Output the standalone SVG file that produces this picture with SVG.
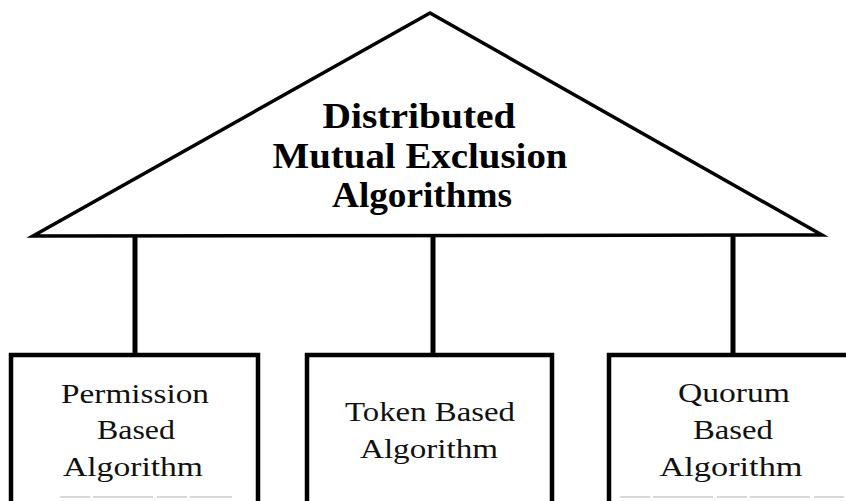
<svg xmlns="http://www.w3.org/2000/svg" width="846" height="501" viewBox="0 0 846 501">
<style>
.title{font-family:"Liberation Serif","Times New Roman",serif;font-weight:bold;font-size:35px;fill:#000}
.lbl{font-family:"Liberation Serif","Times New Roman",serif;font-size:28px;fill:#111}
.box{fill:none;stroke:#000;stroke-width:4.5}
.conn{stroke:#000;stroke-width:5;fill:none}
.faint{stroke:#ccc;stroke-width:1.5;stroke-dasharray:30 3 60 4}
</style>
<rect width="846" height="501" fill="#fff"/>
<g id="root">
<polygon points="430,13 33,236 822,235" fill="none" stroke="#000" stroke-width="3.5" stroke-linejoin="miter"/>
<text class="title" x="419" y="128" text-anchor="middle" textLength="193" lengthAdjust="spacingAndGlyphs">Distributed</text>
<text class="title" x="420" y="168" text-anchor="middle" textLength="295" lengthAdjust="spacingAndGlyphs">Mutual Exclusion</text>
<text class="title" x="422" y="207" text-anchor="middle" textLength="180" lengthAdjust="spacingAndGlyphs">Algorithms</text>
</g>
<g id="connectors">
<line class="conn" x1="135" y1="236" x2="135" y2="355"/>
<line class="conn" x1="433" y1="236" x2="433" y2="355"/>
<line class="conn" x1="733" y1="236" x2="733" y2="355" stroke-width="6"/>
</g>
<g id="permission">
<path class="box" d="M11,501 V355 H258 V501"/>
<line class="faint" x1="60" y1="497" x2="232" y2="497"/>
<text class="lbl" x="135" y="403" text-anchor="middle" textLength="148" lengthAdjust="spacingAndGlyphs">Permission</text>
<text class="lbl" x="136" y="439" text-anchor="middle" textLength="78" lengthAdjust="spacingAndGlyphs">Based</text>
<text class="lbl" x="133" y="476" text-anchor="middle" textLength="140" lengthAdjust="spacingAndGlyphs">Algorithm</text>
</g>
<g id="token">
<path class="box" d="M307,501 V355 H552 V501"/>
<text class="lbl" x="430" y="421" text-anchor="middle" textLength="170" lengthAdjust="spacingAndGlyphs">Token Based</text>
<text class="lbl" x="429" y="458" text-anchor="middle" textLength="138" lengthAdjust="spacingAndGlyphs">Algorithm</text>
</g>
<g id="quorum">
<path class="box" d="M609,501 V355 H846"/>
<line class="faint" x1="620" y1="497" x2="846" y2="497"/>
<text class="lbl" x="734" y="402" text-anchor="middle" textLength="112" lengthAdjust="spacingAndGlyphs">Quorum</text>
<text class="lbl" x="733" y="439" text-anchor="middle" textLength="80" lengthAdjust="spacingAndGlyphs">Based</text>
<text class="lbl" x="731" y="476" text-anchor="middle" textLength="143" lengthAdjust="spacingAndGlyphs">Algorithm</text>
</g>
</svg>
